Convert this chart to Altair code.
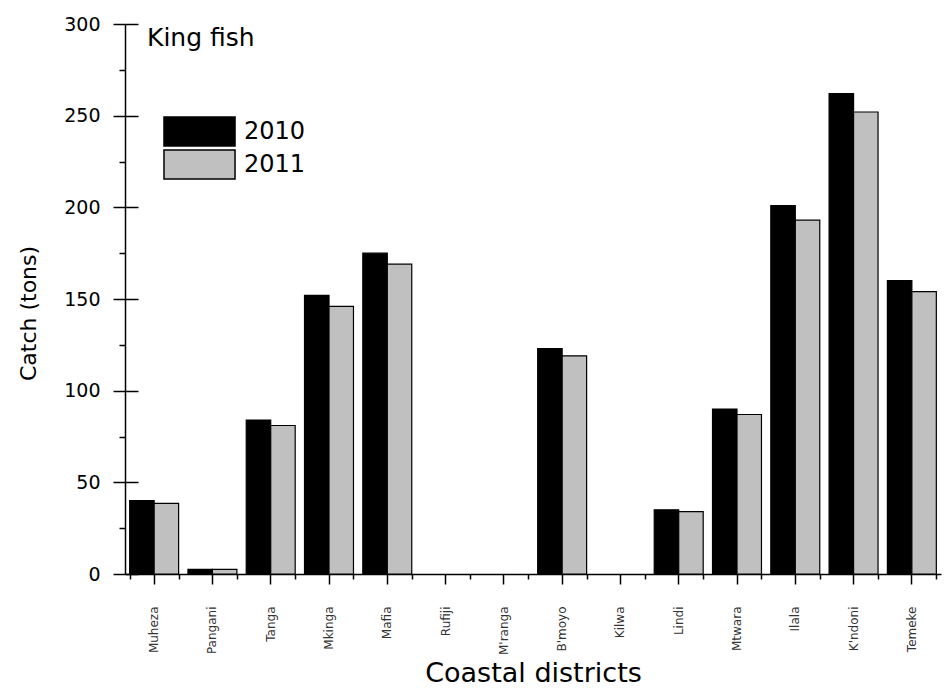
import altair as alt
import pandas as pd

# King fish catch per coastal district, 2010 vs 2011 (tons)
districts = ["Muheza", "Pangani", "Tanga", "Mkinga", "Mafia", "Rufiji", "M'ranga",
             "B'moyo", "Kilwa", "Lindi", "Mtwara", "Ilala", "K'ndoni", "Temeke"]
catch_2010 = [40, 2.5, 84, 152, 175, 0, 0, 123, 0, 35, 90, 201, 262, 160]
catch_2011 = [38.5, 2.5, 81, 146, 169, 0, 0, 119, 0, 34, 87, 193, 252, 154]
years = ["2010", "2011"]
y_major = [0, 50, 100, 150, 200, 250, 300]
y_minor = [25, 75, 125, 175, 225, 275]

rows = []
for d, a, b in zip(districts, catch_2010, catch_2011):
    rows.append({"district": d, "year": "2010", "catch": a})
    rows.append({"district": d, "year": "2011", "catch": b})
df = pd.DataFrame(rows)

FONT = "DejaVu Sans"
W, H = 816, 550

x_scale = alt.Scale(domain=districts, paddingInner=0.16, paddingOuter=0.08)
y_scale = alt.Scale(domain=[0, 300], nice=False)

# wide legend swatch: 29 px tall box, ~71 px wide (path units scale by sqrt(size)/2)
swatch = "M-2.45,-1H2.45V1H-2.45Z"

base = alt.Chart(df)

bars = base.transform_filter("datum.catch > 0").mark_bar(
    stroke="black", strokeWidth=1.2
).encode(
    x=alt.X("district:N", scale=x_scale,
            axis=alt.Axis(title="Coastal districts", labelAngle=270, labelAlign="right",
                          labelBaseline="middle", labelFontSize=12, labelColor="#333",
                          labelPadding=22, tickSize=10, titleFontSize=27, titlePadding=6)),
    xOffset=alt.XOffset("year:N", scale=alt.Scale(domain=years, paddingInner=0, paddingOuter=0)),
    y=alt.Y("catch:Q", scale=y_scale,
            axis=alt.Axis(values=y_major, title="Catch (tons)", tickSize=12, labelFontSize=19,
                          labelPadding=13, titleFontSize=22, titlePadding=23, titleY=289)),
    color=alt.Color("year:N", scale=alt.Scale(domain=years, range=["black", "#c0c0c0"]),
                    legend=alt.Legend(title=None, orient="none", legendX=38, legendY=92,
                                      symbolType=swatch, symbolSize=841, symbolOffset=21,
                                      symbolStrokeColor="black", symbolStrokeWidth=1.5,
                                      symbolOpacity=1, labelFontSize=24, labelFont=FONT,
                                      labelOffset=29, rowPadding=-2, padding=0)),
)

# minor ticks: x at band boundaries, y halfway between labelled values
minor = base.mark_point(opacity=0).encode(
    x=alt.X("district:N", scale=x_scale,
            axis=alt.Axis(title=None, labels=False, domain=False, tickBand="extent",
                          tickSize=5, orient="bottom")),
    y=alt.Y("catch:Q", scale=y_scale,
            axis=alt.Axis(title=None, labels=False, domain=False, values=y_minor,
                          tickSize=6, orient="left")),
)

# inward halves of the major y ticks
inward = base.mark_point(opacity=0).encode(
    x=alt.X("district:N", scale=x_scale,
            axis=alt.Axis(title=None, labels=False, domain=False, ticks=False, orient="bottom")),
    y=alt.Y("catch:Q", scale=y_scale,
            axis=alt.Axis(title=None, labels=False, domain=False, values=y_major,
                          tickSize=13, orient="right", offset=-W)),
)

chart = alt.layer(bars, minor, inward).resolve_axis(
    x="independent", y="independent"
).properties(
    width=W, height=H,
    autosize=alt.AutoSizeParams(type="none"),
    padding={"left": 125, "top": 24, "right": 4, "bottom": 115},
    title=alt.TitleParams("King fish", anchor="start", orient="top", frame="group",
                          dx=22, dy=56, baseline="alphabetic", offset=0, fontSize=25,
                          font=FONT, fontWeight="normal", color="black"),
).configure_axis(
    labelFont=FONT, titleFont=FONT, domainColor="black", tickColor="black",
    labelColor="black", titleColor="black", titleFontWeight="normal",
    domainWidth=1.5, tickWidth=1.5, grid=False,
).configure_view(strokeOpacity=0)

chart.save("out.html", embed_options={"renderer": "svg", "actions": False})
